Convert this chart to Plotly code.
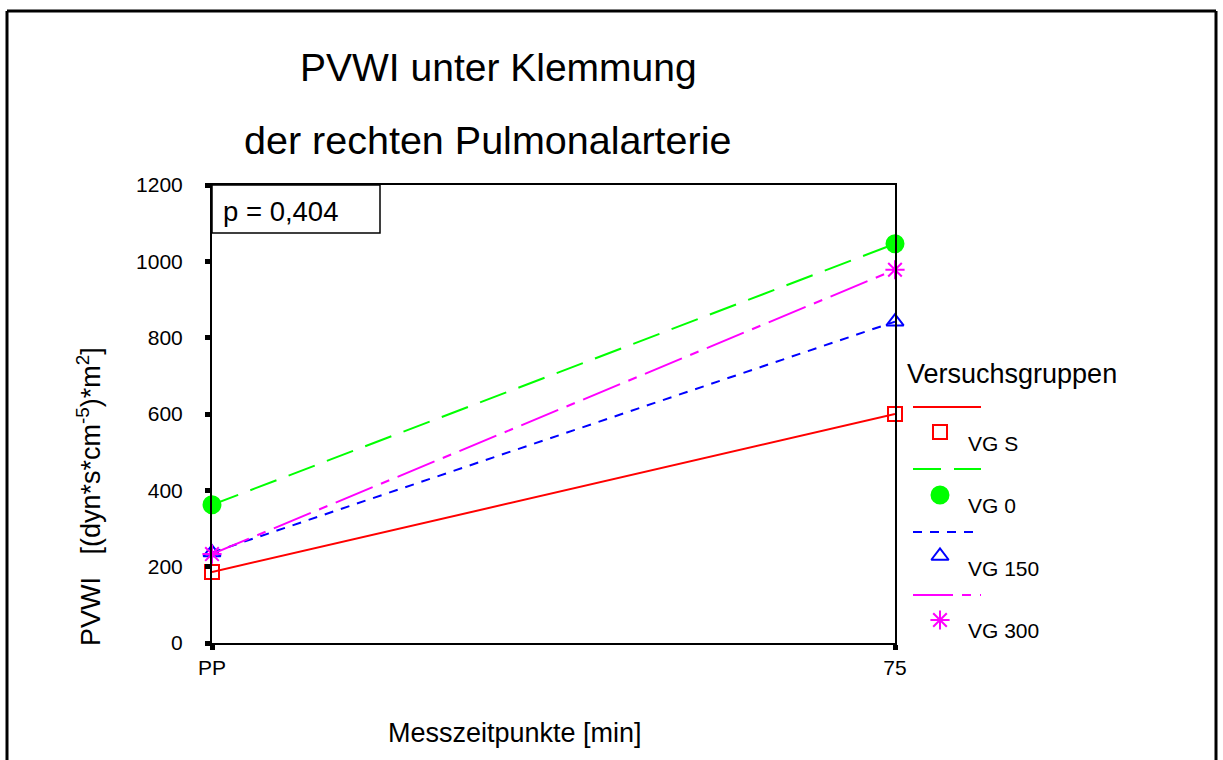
import plotly.graph_objects as go

# ---------------- data ----------------
categories = ["PP", "75"]
x_pos = [0, 1]
groups = ["VG S", "VG 0", "VG 150", "VG 300"]
vg_s = [186, 600]
vg_0 = [362, 1046]
vg_150 = [237, 842]
vg_300 = [233, 978]
y_ticks = [0, 200, 400, 600, 800, 1000, 1200]
p_text = "p = 0,404"

W, H = 1223, 760
FONT = "Liberation Sans, Arial, sans-serif"

def px(x):
    return x / W

def py(y):
    return 1 - y / H

styles = [
    dict(name="VG S", y=vg_s, color="#FF0000", dash="solid", symbol="square-open", size=14),
    dict(name="VG 0", y=vg_0, color="#00FF00", dash="28px,13px", symbol="circle", size=17),
    dict(name="VG 150", y=vg_150, color="#0000FF", dash="9px,8px", symbol="triangle-up-open", size=15),
    dict(name="VG 300", y=vg_300, color="#FF00FF", dash="40px,9px,9px,9px", symbol="asterisk-open", size=16),
]

fig = go.Figure()
for s in styles:
    fig.add_trace(go.Scatter(
        x=x_pos, y=s["y"], mode="lines+markers", name=s["name"],
        line=dict(color=s["color"], width=2, dash=s["dash"]),
        marker=dict(symbol=s["symbol"], size=s["size"], color=s["color"],
                    line=dict(color=s["color"], width=2)),
        cliponaxis=False, showlegend=False,
        xaxis="x", yaxis="y",
    ))

# ---------------- custom legend ----------------
LX0, LX1, LY0, LY1 = 900, 1000, 400, 650   # pixel box of the legend-marker helper axes
legend_line_y = [407, 469, 532, 595]
legend_marker_y = [432, 495, 556, 620]
legend_label_y = [443, 506, 568, 630]
shapes = []
annotations = []
for i, s in enumerate(styles):
    shapes.append(dict(type="line", xref="paper", yref="paper",
                       x0=px(913), x1=px(981), y0=py(legend_line_y[i]), y1=py(legend_line_y[i]),
                       line=dict(color=s["color"], width=2, dash=s["dash"])))
    fig.add_trace(go.Scatter(
        x=[940], y=[legend_marker_y[i]], mode="markers", showlegend=False,
        marker=dict(symbol=s["symbol"], size=s["size"], color=s["color"],
                    line=dict(color=s["color"], width=2)),
        cliponaxis=False, xaxis="x2", yaxis="y2", hoverinfo="skip",
    ))
    annotations.append(dict(xref="paper", yref="paper", x=px(966), y=py(legend_label_y[i]),
                            xanchor="left", yanchor="middle", showarrow=False,
                            text=s["name"], font=dict(size=21, color="black", family=FONT)))

annotations.append(dict(xref="paper", yref="paper", x=px(905), y=py(374),
                        xanchor="left", yanchor="middle", showarrow=False,
                        text="Versuchsgruppen", font=dict(size=27, color="black", family=FONT)))

# titles
annotations.append(dict(xref="paper", yref="paper", x=px(498.5), y=py(67),
                        xanchor="center", yanchor="middle", showarrow=False,
                        text="PVWI unter Klemmung", font=dict(size=39, color="black", family=FONT)))
annotations.append(dict(xref="paper", yref="paper", x=px(487.5), y=py(140),
                        xanchor="center", yanchor="middle", showarrow=False,
                        text="der rechten Pulmonalarterie", font=dict(size=39.5, color="black", family=FONT)))
# axis titles
annotations.append(dict(xref="paper", yref="paper", x=px(515), y=py(733),
                        xanchor="center", yanchor="middle", showarrow=False,
                        text="Messzeitpunkte [min]", font=dict(size=27, color="black", family=FONT)))
annotations.append(dict(xref="paper", yref="paper", x=px(89), y=py(497),
                        xanchor="center", yanchor="middle", showarrow=False, textangle=-90,
                        text="PVWI   [(dyn*s*cm<sup>-5</sup>)*m<sup>2</sup>]",
                        font=dict(size=27, color="black", family=FONT)))
# p-value box
shapes.append(dict(type="rect", xref="paper", yref="paper",
                   x0=px(212), x1=px(380), y0=py(185), y1=py(233),
                   line=dict(color="black", width=1.5), fillcolor="white", layer="below"))
annotations.append(dict(xref="paper", yref="paper", x=px(221), y=py(211),
                        xanchor="left", yanchor="middle", showarrow=False,
                        text=p_text, font=dict(size=27.5, color="black", family=FONT)))
# outer frame (left, top, right edges; bottom edge lies below the visible page)
frame = dict(color="black", width=3)
shapes.append(dict(type="line", xref="paper", yref="paper", x0=px(7), x1=px(7), y0=0, y1=py(11), line=frame))
shapes.append(dict(type="line", xref="paper", yref="paper", x0=px(7), x1=px(1216), y0=py(11), y1=py(11), line=frame))
shapes.append(dict(type="line", xref="paper", yref="paper", x0=px(1216), x1=px(1216), y0=0, y1=py(11), line=frame))

fig.update_layout(
    width=W, height=H,
    margin=dict(l=0, r=0, t=0, b=0, pad=0, autoexpand=False),
    paper_bgcolor="white", plot_bgcolor="rgba(0,0,0,0)",
    font=dict(family=FONT, color="black"),
    showlegend=False,
    shapes=shapes, annotations=annotations,
    xaxis=dict(domain=[px(212), px(895)], range=[0, 1], automargin=False,
               tickvals=x_pos, ticktext=categories,
               showline=True, linecolor="black", linewidth=2, mirror=True,
               ticks="outside", ticklen=5, tickwidth=5, tickcolor="black",
               showgrid=False, zeroline=False, tickfont=dict(size=21), anchor="y"),
    yaxis=dict(domain=[py(643), py(185)], range=[0, 1200], automargin=False,
               tickvals=y_ticks, ticktext=[str(v) for v in y_ticks],
               showline=True, linecolor="black", linewidth=2, mirror=True,
               ticks="outside", ticklen=5, tickwidth=5, tickcolor="black",
               ticklabelstandoff=18,
               showgrid=False, zeroline=False, tickfont=dict(size=21), anchor="x"),
    xaxis2=dict(domain=[px(LX0), px(LX1)], range=[LX0, LX1], visible=False, anchor="y2",
                fixedrange=True, automargin=False),
    yaxis2=dict(domain=[py(LY1), py(LY0)], range=[LY1, LY0], visible=False, anchor="x2",
                fixedrange=True, automargin=False),
)

fig.write_html("out.html", config={"staticPlot": True})
